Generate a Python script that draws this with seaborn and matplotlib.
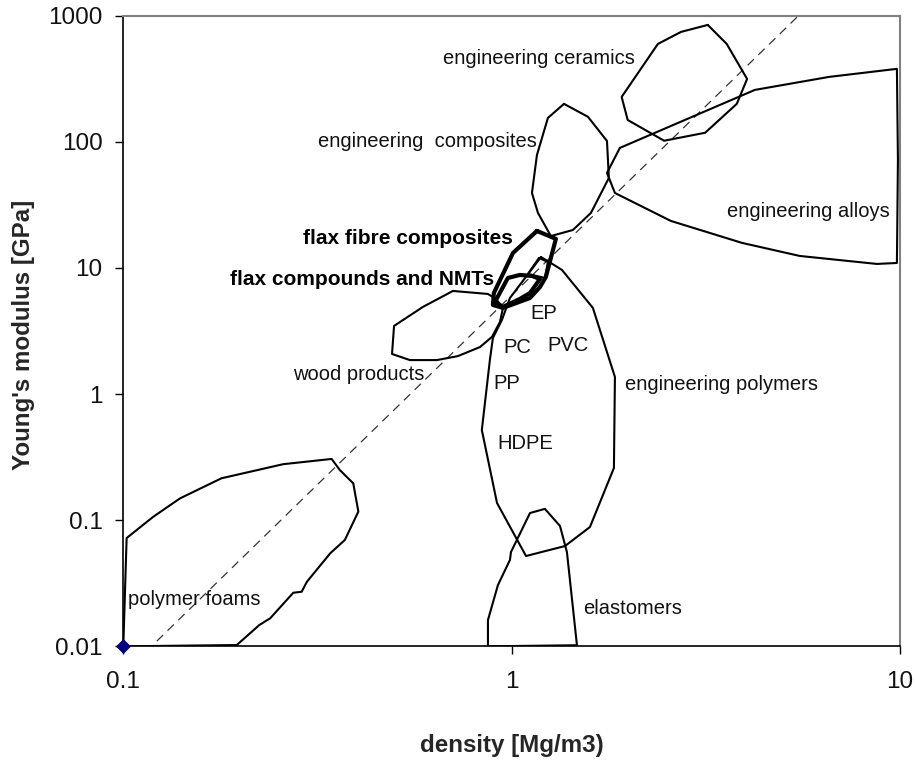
import matplotlib
matplotlib.use("Agg")
import matplotlib.pyplot as plt
import pandas as pd
import seaborn as sns
from matplotlib.ticker import FixedLocator, FixedFormatter, NullLocator

# Material property envelopes: density [Mg/m3] vs Young's modulus [GPa]
ceramics_rho = [3.20, 3.58, 4.04, 3.80, 3.15, 2.47, 1.99, 1.92, 2.38, 2.73]
ceramics_E = [845, 597, 315, 200, 118, 102, 149, 227, 597, 744]

composites_rho = [1.364, 1.572, 1.760, 1.780, 1.600, 1.438, 1.262, 1.169, 1.128, 1.162, 1.240]
composites_E = [200, 158, 101.6, 51.7, 27.3, 20.0, 17.9, 27.3, 39.3, 78.7, 154.7]

alloys_rho = [1.900, 4.23, 6.56, 9.82, 9.88, 9.82, 8.72, 5.52, 3.92, 2.57, 1.845, 1.760]
alloys_E = [89.5, 258, 327, 379, 71.8, 10.95, 10.76, 12.45, 15.8, 23.6, 39.3, 56.7]

polymers_rho = [1.190, 1.247, 1.348, 1.619, 1.845, 1.834, 1.591, 1.372, 1.089, 0.917,
                0.838, 0.879, 0.895, 0.944, 0.990]
polymers_E = [12.2, 11.2, 9.64, 4.82, 1.366, 0.2596, 0.0883, 0.0624, 0.052, 0.1369,
              0.519, 1.864, 2.79, 3.87, 5.78]

ep_rho = [1.176, 1.240, 1.218, 1.101]
ep_E = [12.0, 11.16, 8.33, 8.96]

elastomers_rho = [0.869, 0.869, 0.922, 0.990, 0.996, 1.115, 1.218, 1.332, 1.388, 1.473]
elastomers_E = [0.01, 0.01617, 0.0306, 0.0484, 0.0559, 0.114, 0.123, 0.0900, 0.0559, 0.0102]

wood_rho = [0.706, 0.869, 0.911, 0.950, 0.933, 0.890, 0.829, 0.727, 0.642, 0.547, 0.492, 0.498, 0.591]
wood_E = [6.57, 6.22, 5.68, 4.82, 3.73, 2.84, 2.36, 2.00, 1.86, 1.86, 2.08, 3.47, 4.91]

foams_rho = [0.100, 0.102, 0.1195, 0.140, 0.179, 0.258, 0.344, 0.361, 0.391, 0.403, 0.372,
             0.341, 0.297, 0.288, 0.274, 0.239, 0.224, 0.196]
foams_E = [0.01, 0.0722, 0.1066, 0.149, 0.215, 0.278, 0.306, 0.250, 0.196, 0.117, 0.0697,
           0.0546, 0.0325, 0.0271, 0.0266, 0.0167, 0.01475, 0.01024]

flax_fibre_rho = [1.162, 1.300, 1.225, 1.183, 1.115, 0.950, 0.895, 0.900, 1.008]
flax_fibre_E = [19.65, 17.0, 8.48, 7.07, 5.78, 4.82, 5.09, 6.33, 13.15]

flax_nmt_rho = [0.906, 0.978, 1.050, 1.128, 1.183, 1.115, 1.050, 0.950]
flax_nmt_E = [5.38, 8.33, 8.80, 8.64, 8.18, 6.33, 5.68, 4.91]

# Guide line E^(1/3)/rho = const
guide_rho = [0.122, 5.48]
guide_E = [0.011, 1000]

# Origin marker
origin_rho = [0.1]
origin_E = [0.01]

x_ticks = [0.1, 1, 10]
x_tick_labels = ["0.1", "1", "10"]
y_ticks = [0.01, 0.1, 1, 10, 100, 1000]
y_tick_labels = ["0.01", "0.1", "1", "10", "100", "1000"]

# Region labels: text, density, modulus, bold
label_text = ["engineering ceramics", "engineering  composites", "engineering alloys",
              "flax fibre composites", "flax compounds and NMTs", "wood products",
              "EP", "PC", "PVC", "PP", "HDPE", "engineering polymers",
              "elastomers", "polymer foams"]
label_rho = [0.666, 0.318, 3.58, 0.2906, 0.1883, 0.274, 1.119, 0.951, 1.235, 0.897,
             0.918, 1.957, 1.529, 0.103]
label_E = [454, 100, 27.96, 17.2, 8.14, 1.417, 4.37, 2.35, 2.41, 1.218, 0.402, 1.181,
           0.02, 0.0237]
label_bold = [False, False, False, True, True, False, False, False, False, False,
              False, False, False, False]


def outline(name, rho, E):
    rho = list(rho) + [rho[0]]
    E = list(E) + [E[0]]
    return pd.DataFrame({"region": name, "density": rho, "modulus": E,
                         "order": range(len(rho))})


thin = pd.concat([
    outline("engineering ceramics", ceramics_rho, ceramics_E),
    outline("engineering composites", composites_rho, composites_E),
    outline("engineering alloys", alloys_rho, alloys_E),
    outline("engineering polymers", polymers_rho, polymers_E),
    outline("EP", ep_rho, ep_E),
    outline("elastomers", elastomers_rho, elastomers_E),
    outline("wood products", wood_rho, wood_E),
    outline("polymer foams", foams_rho, foams_E),
], ignore_index=True)

thick = pd.concat([
    outline("flax fibre composites", flax_fibre_rho, flax_fibre_E),
    outline("flax compounds and NMTs", flax_nmt_rho, flax_nmt_E),
], ignore_index=True)

sns.set_theme(style="white")
plt.rcParams["font.family"] = ["Liberation Sans", "DejaVu Sans"]

fig = plt.figure(figsize=(9.16, 7.62), dpi=100)
ax = fig.add_axes([0.1346, 0.1518, 0.8479, 0.8276])
ax.set_xscale("log")
ax.set_yscale("log")

sns.lineplot(data=pd.DataFrame({"density": guide_rho, "modulus": guide_E}),
             x="density", y="modulus", ax=ax, color="#333333", lw=0.9,
             linestyle=(0, (7, 5)), sort=False, estimator=None)

sns.lineplot(data=thin, x="density", y="modulus", units="region", estimator=None,
             sort=False, ax=ax, color="black", lw=1.5)
sns.lineplot(data=thick, x="density", y="modulus", units="region", estimator=None,
             sort=False, ax=ax, color="black", lw=3.0)

sns.scatterplot(x=origin_rho, y=origin_E, ax=ax, marker="D", color="#000080",
                s=50, edgecolor="#000080", clip_on=False, zorder=5)

for txt, r, e, b in zip(label_text, label_rho, label_E, label_bold):
    ax.text(r, e, txt, ha="left", va="center", fontsize=15 if b else 14.5,
            fontweight="bold" if b else "normal", color="black" if b else "#111111")

ax.set_xlim(0.1, 10)
ax.set_ylim(0.01, 1000)
ax.xaxis.set_major_locator(FixedLocator(x_ticks))
ax.xaxis.set_major_formatter(FixedFormatter(x_tick_labels))
ax.yaxis.set_major_locator(FixedLocator(y_ticks))
ax.yaxis.set_major_formatter(FixedFormatter(y_tick_labels))
ax.xaxis.set_minor_locator(NullLocator())
ax.yaxis.set_minor_locator(NullLocator())

ax.tick_params(axis="both", which="major", direction="out", length=6, width=1.0,
               color="black", labelsize=17.5, labelcolor="#111111")
ax.tick_params(axis="y", pad=9)
ax.tick_params(axis="x", pad=12)
ax.tick_params(left=True, bottom=True)

for side in ["left", "bottom"]:
    ax.spines[side].set_color("black")
    ax.spines[side].set_linewidth(1.2)
for side in ["top", "right"]:
    ax.spines[side].set_color("#808080")
    ax.spines[side].set_linewidth(1.5)

ax.set_xlabel("density [Mg/m3)", fontsize=17.4, fontweight="bold")
ax.set_ylabel("Young's modulus [GPa]", fontsize=17.4, fontweight="bold")
ax.xaxis.label.set_va("center")
ax.yaxis.label.set_va("center")
ax.xaxis.set_label_coords(0.5, -0.1565)
ax.yaxis.set_label_coords(-0.129, 0.4937)

fig.savefig("out.png", dpi=100)
